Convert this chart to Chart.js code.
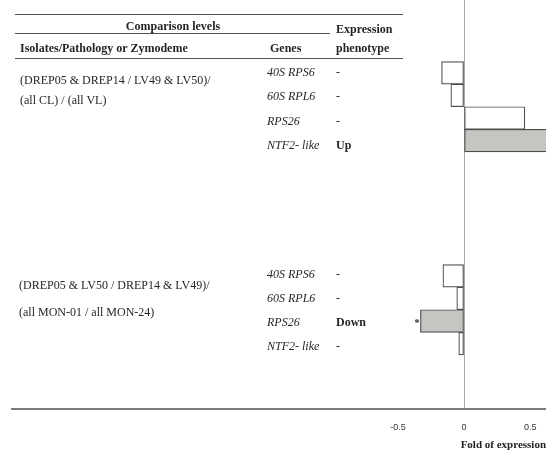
<!DOCTYPE html>
<html>
<head>
<meta charset="utf-8">
<script src="https://cdn.jsdelivr.net/npm/chart.js@4.4.1/dist/chart.umd.min.js"></script>
<style>
  body { margin: 0; background: #fff; }
  #wrap { position: relative; width: 546px; height: 455px; }
  #table { position: absolute; left: 0; top: 0; width: 546px; height: 455px; pointer-events: none; }
  .t { position: absolute; font-family: "Liberation Serif", serif; font-size: 12px; line-height: 14px; color: #262626; white-space: nowrap; }
  .b { font-weight: bold; }
  .i { font-style: italic; }
  .rule { position: absolute; height: 0; border-top: 1.5px solid #555; }
</style>
</head>
<body>
<div id="wrap">
  <canvas id="foldChart"></canvas>
  <div id="table"></div>
</div>
<script>
// data
const genes = ['40S RPS6', '60S RPL6', 'RPS26', 'NTF2- like'];
const foldA = [-0.17, -0.10, 0.46, 0.75];
const foldB = [-0.16, -0.055, -0.33, -0.04];
const phenotypeA = ['-', '-', '-', 'Up'];
const phenotypeB = ['-', '-', 'Down', '-'];
const marksA = ['', '', '', '*'];
const marksB = ['', '', '*', ''];
const comparisonA = ['(DREP05 & DREP14 / LV49 & LV50)/', '(all CL) / (all VL)'];
const comparisonB = ['(DREP05 & LV50 / DREP14 & LV49)/', '(all MON-01 / all MON-24)'];
const xTicks = [-0.5, 0, 0.5];
const xTickLabels = ['-0.5', '0', '0.5'];

// second group starts this many rows below the first
const groupBStart = 9;

// ---- table part (left side) ----
const table = document.getElementById('table');
function addText(txt, x, yc, cls, center) {
    const d = document.createElement('div');
    d.className = 't ' + (cls || '');
    d.textContent = txt;
    d.style.left = x + 'px';
    d.style.top = (yc - 7) + 'px';
    if (center) d.style.transform = 'translateX(-50%)';
    table.appendChild(d);
}
function addRule(x1, x2, y) {
    const d = document.createElement('div');
    d.className = 'rule';
    d.style.left = x1 + 'px';
    d.style.width = (x2 - x1) + 'px';
    d.style.top = y + 'px';
    table.appendChild(d);
}

addRule(15, 403, 14);
addRule(15, 330, 33);
addRule(15, 403, 58);
addText('Comparison levels', 173, 26, 'b', true);
addText('Expression', 336, 28.5, 'b');
addText('Isolates/Pathology or Zymodeme', 20, 47.5, 'b');
addText('Genes', 270, 48, 'b');
addText('phenotype', 336, 47.5, 'b');

addText(comparisonA[0], 20, 80);
addText(comparisonA[1], 20, 100);
addText(comparisonB[0], 19, 285);
addText(comparisonB[1], 19, 311.5);

genes.forEach(function(g, i) {
    addText(g, 267, 72 + i * 24.3, 'i');
    addText(g, 267, 273.5 + i * 24.2, 'i');
    addText(phenotypeA[i], 336, 72 + i * 24.3, phenotypeA[i] === '-' ? '' : 'b');
    addText(phenotypeB[i], 336, 273.5 + i * 24.2, phenotypeB[i] === '-' ? '' : 'b');
});

// ---- bars (right side) ----
function fillFor(p) {
    return p === '-' ? '#ffffff' : '#c5c6c2';
}
const marks = [marksA, marksB];
const rowsA = genes.map(function(g, i) { return i; });
const rowsB = genes.map(function(g, i) { return groupBStart + i; });

const starPlugin = {
    id: 'stars',
    afterDatasetsDraw(chart) {
        const ctx = chart.ctx;
        chart.data.datasets.forEach(function(ds, di) {
            chart.getDatasetMeta(di).data.forEach(function(bar, i) {
                const m = marks[di][i];
                if (!m) return;
                const neg = bar.x < bar.base;
                ctx.save();
                ctx.font = 'bold 10px "Liberation Serif"';
                ctx.fillStyle = '#222';
                ctx.textAlign = neg ? 'right' : 'left';
                ctx.textBaseline = 'middle';
                ctx.fillText(m, neg ? bar.x - 1 : bar.x + 1, bar.y + 2);
                ctx.restore();
            });
        });
    }
};

const barStyle = {
    borderColor: '#4d4d4d',
    borderWidth: 1.2,
    borderSkipped: false,
    barPercentage: 1,
    categoryPercentage: 1,
    grouped: false
};

const ctx = document.getElementById('foldChart').getContext('2d');
new Chart(ctx, {
    type: 'bar',
    data: {
        datasets: [
            Object.assign({
                label: comparisonA.join(' '),
                data: foldA.map(function(v, i) { return { x: v, y: rowsA[i] }; }),
                backgroundColor: phenotypeA.map(fillFor)
            }, barStyle),
            Object.assign({
                label: comparisonB.join(' '),
                data: foldB.map(function(v, i) { return { x: v, y: rowsB[i] }; }),
                backgroundColor: phenotypeB.map(fillFor)
            }, barStyle)
        ]
    },
    options: {
        indexAxis: 'y',
        responsive: true,
        maintainAspectRatio: false,
        animation: false,
        layout: { padding: { left: 12, right: 0, top: 0, bottom: 0 } },
        plugins: {
            legend: { display: false },
            tooltip: { enabled: false }
        },
        scales: {
            y: {
                type: 'linear',
                display: false,
                reverse: true,
                offset: false,
                min: -3.23,
                max: 14.9,
                afterBuildTicks: function(axis) {
                    axis.ticks = rowsA.concat(rowsB).map(function(v) { return { value: v }; });
                }
            },
            x: {
                type: 'linear',
                min: -3.42,
                max: 0.62,
                afterBuildTicks: function(axis) {
                    axis.ticks = xTicks.map(function(v) { return { value: v }; });
                },
                grid: {
                    drawTicks: false,
                    color: function(c) { return c.tick && c.tick.value === 0 ? '#aaaaaa' : 'rgba(0,0,0,0)'; },
                    lineWidth: 1
                },
                border: { display: true, color: '#7a7a7a', width: 2 },
                ticks: {
                    padding: 0,
                    maxRotation: 0,
                    color: '#333',
                    font: { family: 'Liberation Sans', size: 9, lineHeight: 38 / 9 },
                    callback: function(v) {
                        const k = xTicks.indexOf(v);
                        return k >= 0 ? xTickLabels[k] : '';
                    }
                },
                title: {
                    display: true,
                    text: 'Fold of expression',
                    align: 'end',
                    color: '#222',
                    font: { family: 'Liberation Serif', size: 11, weight: 'bold' },
                    padding: { top: -8.6, bottom: 3.4 }
                }
            }
        }
    },
    plugins: [starPlugin]
});
</script>
</body>
</html>
